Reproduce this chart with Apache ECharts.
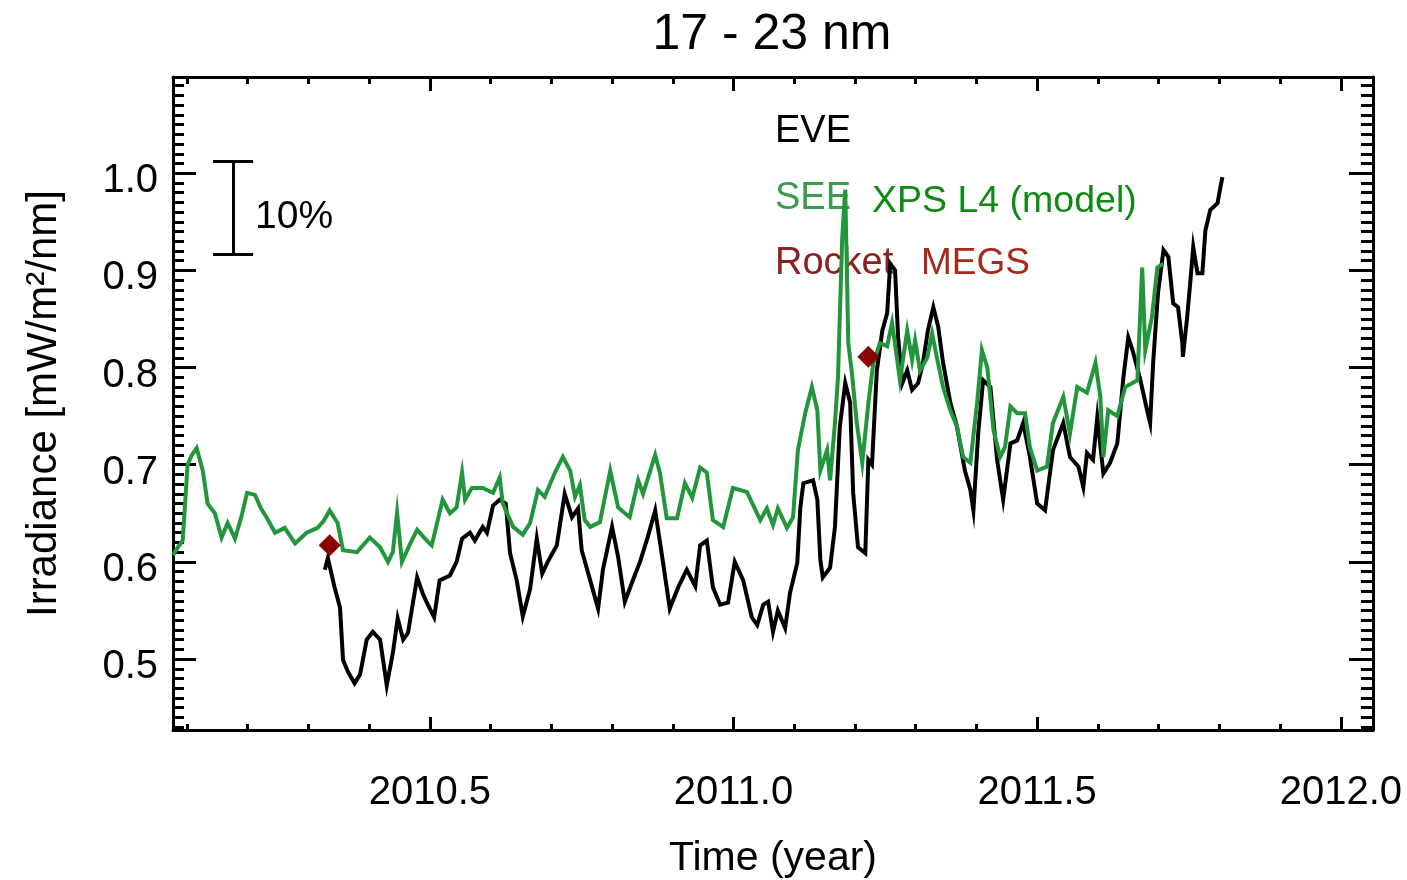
<!DOCTYPE html>
<html>
<head>
<meta charset="utf-8">
<script src="https://cdn.jsdelivr.net/npm/echarts@6/dist/echarts.min.js"></script>
<style>
html,body{margin:0;padding:0;background:#fff;}
#chart{width:1407px;height:880px;}
</style>
</head>
<body>
<div id="chart"></div>
<script>
// ---- data ----
const titleText = '17 - 23 nm';
const xMajorTicks = [2010.5, 2011.0, 2011.5, 2012.0];
const yMajorTicks = [0.5, 0.6, 0.7, 0.8, 0.9, 1.0];
const xRange = [2010.077, 2012.053];
const yRange = [0.427, 1.099];

// EVE (black)
const eveSeries = [
[2010.327,0.592],[2010.332,0.604],[2010.343,0.574],[2010.352,0.553],[2010.357,0.499],[2010.365,0.487],
[2010.376,0.475],[2010.385,0.484],[2010.396,0.520],[2010.406,0.528],[2010.418,0.520],[2010.429,0.473],
[2010.439,0.506],[2010.447,0.542],[2010.456,0.520],[2010.464,0.527],[2010.479,0.584],[2010.488,0.568],
[2010.495,0.558],[2010.507,0.543],[2010.516,0.581],[2010.533,0.586],[2010.544,0.600],[2010.553,0.624],
[2010.566,0.630],[2010.574,0.622],[2010.587,0.636],[2010.594,0.630],[2010.604,0.658],[2010.615,0.664],
[2010.625,0.660],[2010.632,0.609],[2010.643,0.581],[2010.653,0.544],[2010.665,0.572],[2010.676,0.624],
[2010.685,0.588],[2010.694,0.600],[2010.709,0.617],[2010.722,0.670],[2010.734,0.646],[2010.744,0.655],
[2010.750,0.612],[2010.764,0.581],[2010.777,0.552],[2010.785,0.592],[2010.800,0.636],[2010.810,0.605],
[2010.821,0.559],[2010.833,0.579],[2010.846,0.600],[2010.859,0.626],[2010.871,0.653],[2010.884,0.599],
[2010.895,0.552],[2010.909,0.574],[2010.923,0.592],[2010.937,0.575],[2010.945,0.617],[2010.956,0.622],
[2010.966,0.574],[2010.978,0.556],[2010.991,0.558],[2011.002,0.600],[2011.016,0.581],[2011.030,0.543],
[2011.039,0.535],[2011.049,0.556],[2011.057,0.559],[2011.065,0.528],[2011.073,0.550],[2011.085,0.532],
[2011.093,0.568],[2011.105,0.599],[2011.110,0.656],[2011.115,0.681],[2011.131,0.684],[2011.138,0.664],
[2011.143,0.602],[2011.147,0.584],[2011.159,0.594],[2011.167,0.636],[2011.175,0.739],[2011.184,0.784],
[2011.192,0.764],[2011.197,0.671],[2011.205,0.615],[2011.217,0.609],[2011.222,0.705],[2011.228,0.700],
[2011.236,0.797],[2011.245,0.838],[2011.253,0.856],[2011.258,0.907],[2011.266,0.900],[2011.271,0.831],
[2011.278,0.784],[2011.286,0.797],[2011.294,0.777],[2011.304,0.784],[2011.312,0.805],[2011.320,0.838],
[2011.329,0.862],[2011.337,0.842],[2011.345,0.805],[2011.357,0.764],[2011.368,0.739],[2011.381,0.694],
[2011.390,0.674],[2011.395,0.653],[2011.403,0.733],[2011.411,0.787],[2011.423,0.780],[2011.434,0.705],
[2011.444,0.664],[2011.456,0.722],[2011.467,0.725],[2011.477,0.743],[2011.488,0.708],[2011.500,0.660],
[2011.513,0.653],[2011.526,0.715],[2011.543,0.743],[2011.554,0.708],[2011.568,0.698],[2011.576,0.677],
[2011.582,0.712],[2011.592,0.705],[2011.599,0.749],[2011.609,0.691],[2011.620,0.702],[2011.632,0.722],
[2011.642,0.790],[2011.650,0.831],[2011.657,0.818],[2011.670,0.787],[2011.681,0.756],[2011.686,0.743],
[2011.691,0.805],[2011.699,0.877],[2011.708,0.921],[2011.716,0.914],[2011.724,0.866],[2011.732,0.862],
[2011.739,0.825],[2011.740,0.811],[2011.747,0.852],[2011.752,0.887],[2011.757,0.924],[2011.764,0.897],
[2011.772,0.897],[2011.777,0.941],[2011.785,0.962],[2011.797,0.969],[2011.801,0.983],[2011.805,0.996]
];

// SEE XPS L4 (model) (green)
const seeSeries = [
[2010.077,0.607],[2010.085,0.615],[2010.093,0.622],[2010.101,0.700],[2010.108,0.710],[2010.116,0.717],
[2010.126,0.694],[2010.134,0.660],[2010.146,0.650],[2010.157,0.625],[2010.167,0.640],[2010.179,0.624],
[2010.189,0.645],[2010.199,0.671],[2010.212,0.669],[2010.222,0.655],[2010.231,0.646],[2010.245,0.630],
[2010.261,0.635],[2010.278,0.619],[2010.297,0.630],[2010.315,0.635],[2010.325,0.642],[2010.335,0.653],
[2010.348,0.640],[2010.357,0.612],[2010.380,0.610],[2010.401,0.625],[2010.418,0.615],[2010.431,0.600],
[2010.439,0.610],[2010.446,0.651],[2010.454,0.600],[2010.467,0.618],[2010.479,0.633],[2010.495,0.622],
[2010.503,0.617],[2010.521,0.664],[2010.533,0.650],[2010.544,0.656],[2010.553,0.692],[2010.558,0.664],
[2010.569,0.676],[2010.587,0.676],[2010.604,0.671],[2010.615,0.687],[2010.620,0.660],[2010.637,0.636],
[2010.653,0.628],[2010.665,0.640],[2010.678,0.674],[2010.689,0.667],[2010.706,0.692],[2010.719,0.708],
[2010.731,0.694],[2010.739,0.667],[2010.747,0.679],[2010.755,0.643],[2010.764,0.636],[2010.780,0.641],
[2010.797,0.694],[2010.810,0.656],[2010.829,0.646],[2010.843,0.684],[2010.851,0.670],[2010.871,0.710],
[2010.879,0.691],[2010.890,0.645],[2010.907,0.645],[2010.920,0.681],[2010.932,0.666],[2010.945,0.697],
[2010.956,0.692],[2010.966,0.643],[2010.983,0.636],[2010.999,0.676],[2011.022,0.672],[2011.044,0.643],
[2011.055,0.655],[2011.065,0.638],[2011.073,0.655],[2011.088,0.635],[2011.098,0.646],[2011.106,0.715],
[2011.118,0.753],[2011.129,0.780],[2011.138,0.756],[2011.143,0.694],[2011.154,0.715],[2011.159,0.684],
[2011.167,0.743],[2011.172,0.790],[2011.179,0.934],[2011.184,0.983],[2011.189,0.825],[2011.195,0.794],
[2011.203,0.743],[2011.212,0.702],[2011.222,0.763],[2011.230,0.804],[2011.241,0.825],[2011.253,0.822],
[2011.261,0.846],[2011.269,0.810],[2011.274,0.787],[2011.286,0.838],[2011.294,0.808],[2011.299,0.828],
[2011.307,0.797],[2011.319,0.810],[2011.327,0.835],[2011.335,0.810],[2011.345,0.780],[2011.357,0.756],
[2011.368,0.739],[2011.378,0.708],[2011.390,0.702],[2011.401,0.763],[2011.409,0.818],[2011.418,0.800],
[2011.428,0.736],[2011.439,0.708],[2011.447,0.718],[2011.456,0.760],[2011.467,0.753],[2011.480,0.753],
[2011.488,0.718],[2011.500,0.694],[2011.516,0.698],[2011.526,0.743],[2011.543,0.770],[2011.554,0.732],
[2011.566,0.780],[2011.582,0.774],[2011.596,0.805],[2011.604,0.770],[2011.609,0.708],[2011.617,0.756],
[2011.632,0.750],[2011.645,0.780],[2011.665,0.787],[2011.673,0.903],[2011.678,0.818],[2011.689,0.852],
[2011.698,0.903],[2011.708,0.907]
];

// Rocket MEGS (dark red diamonds)
const rocketSeries = [[2010.335, 0.617], [2011.222, 0.811]];

// 10% scale bar (year position, top, bottom, cap half-width)
const scaleBarX = 2010.176;
const scaleBarTop = 1.012;
const scaleBarBottom = 0.917;
const scaleBarCap = 0.033;

// ---- helpers ----
const FONT = '"Liberation Sans", Helvetica, Arial, sans-serif';
function minorList(lo, hi, step, majors) {
  const out = [];
  const n0 = Math.ceil(lo / step - 1e-9), n1 = Math.floor(hi / step + 1e-9);
  for (let i = n0; i <= n1; i++) {
    const v = +(i * step).toFixed(4);
    if (!majors.some(m => Math.abs(m - v) < 1e-6)) out.push(v);
  }
  return out;
}
const xMinor = minorList(xRange[0], xRange[1], 0.1, xMajorTicks);
const yMinor = minorList(yRange[0], yRange[1], 0.01, yMajorTicks);
const LW = 3;

function xAx(pos, ticks, len, showLine, labels) {
  return {
    type: 'value', min: xRange[0], max: xRange[1], position: pos, gridIndex: 0,
    splitLine: {show: false},
    axisLine: {show: showLine, onZero: false, lineStyle: {color: '#000', width: LW}},
    axisTick: {show: true, inside: true, length: len, customValues: ticks, lineStyle: {color: '#000', width: LW}},
    axisLabel: labels ? {show: true, customValues: xMajorTicks, formatter: v => v.toFixed(1),
      fontSize: 40, fontFamily: FONT, color: '#000', margin: 43} : {show: false},
    name: labels ? 'Time (year)' : '', nameLocation: 'middle', nameGap: 108,
    nameTextStyle: {fontSize: 41, fontFamily: FONT, color: '#000'}
  };
}
function yAx(pos, ticks, len, showLine, labels) {
  return {
    type: 'value', min: yRange[0], max: yRange[1], position: pos, gridIndex: 0,
    splitLine: {show: false},
    axisLine: {show: showLine, onZero: false, lineStyle: {color: '#000', width: LW}},
    axisTick: {show: true, inside: true, length: len, customValues: ticks, lineStyle: {color: '#000', width: LW}},
    axisLabel: labels ? {show: true, customValues: yMajorTicks, formatter: v => v.toFixed(1),
      fontSize: 40, fontFamily: FONT, color: '#000', margin: 15,
      verticalAlign: 'top', lineHeight: 16} : {show: false},
    name: labels ? 'Irradiance [mW/m²/nm]' : '', nameLocation: 'middle', nameGap: 108, nameRotate: 90,
    nameTextStyle: {fontSize: 42, fontFamily: FONT, color: '#000'}
  };
}

const chart = echarts.init(document.getElementById('chart'), null, {renderer: 'canvas'});
chart.setOption({
  animation: false,
  backgroundColor: '#fff',
  grid: {left: 173, right: 34, top: 77, bottom: 150, containLabel: false, outerBoundsMode: 'none'},
  xAxis: [
    xAx('bottom', xMajorTicks, 13, true, true),
    xAx('bottom', xMinor, 6, false, false),
    xAx('top', xMajorTicks, 14, true, false),
    xAx('top', xMinor, 7, false, false)
  ],
  yAxis: [
    yAx('left', yMajorTicks, 23, true, true),
    yAx('left', yMinor, 11, false, false),
    yAx('right', yMajorTicks, 24, true, false),
    yAx('right', yMinor, 12, false, false)
  ],
  graphic: {elements: [
    {type: 'text', z: 0, x: 772, y: 35, style: {text: titleText, font: '50px ' + FONT, fill: '#000', align: 'center', verticalAlign: 'middle'}},
    {type: 'text', z: 0, x: 775, y: 132, style: {text: 'EVE', font: '38px ' + FONT, fill: '#000', align: 'left', verticalAlign: 'middle'}},
    {type: 'text', z: 0, x: 775, y: 199, style: {text: 'SEE', font: '38px ' + FONT, fill: '#3a9a4e', align: 'left', verticalAlign: 'middle'}},
    {type: 'text', z: 0, x: 872, y: 202, style: {text: 'XPS L4 (model)', font: '37.5px ' + FONT, fill: '#0e8a12', align: 'left', verticalAlign: 'middle'}},
    {type: 'text', z: 0, x: 775, y: 264, style: {text: 'Rocket', font: '38px ' + FONT, fill: '#8a2020', align: 'left', verticalAlign: 'middle'}},
    {type: 'text', z: 0, x: 921, y: 264, style: {text: 'MEGS', font: '37px ' + FONT, fill: '#a52a1c', align: 'left', verticalAlign: 'middle'}},
    {type: 'text', z: 0, x: 255, y: 217, style: {text: '10%', font: '39px ' + FONT, fill: '#000', align: 'left', verticalAlign: 'middle'}}
  ]},
  series: [
    {
      name: 'EVE', type: 'line', xAxisIndex: 0, yAxisIndex: 0, data: eveSeries,
      showSymbol: false, symbol: 'none', z: 3,
      lineStyle: {color: '#000', width: 4, join: 'miter'}
    },
    {
      name: 'SEE', type: 'line', xAxisIndex: 0, yAxisIndex: 0, data: seeSeries,
      showSymbol: false, symbol: 'none', z: 4,
      lineStyle: {color: '#22963a', width: 4, join: 'miter'}
    },
    {
      name: 'Rocket', type: 'scatter', xAxisIndex: 0, yAxisIndex: 0, data: rocketSeries,
      symbol: 'diamond', symbolSize: 22, z: 5,
      itemStyle: {color: '#8b0000', opacity: 1}
    },
    {
      name: 'scale', type: 'lines', coordinateSystem: 'cartesian2d', xAxisIndex: 0, yAxisIndex: 0, z: 5,
      lineStyle: {color: '#000', width: 3, opacity: 1},
      data: [
        {coords: [[scaleBarX, scaleBarTop], [scaleBarX, scaleBarBottom]]},
        {coords: [[scaleBarX - scaleBarCap, scaleBarTop], [scaleBarX + scaleBarCap, scaleBarTop]]},
        {coords: [[scaleBarX - scaleBarCap, scaleBarBottom], [scaleBarX + scaleBarCap, scaleBarBottom]]}
      ]
    }
  ]
});
</script>
</body>
</html>
